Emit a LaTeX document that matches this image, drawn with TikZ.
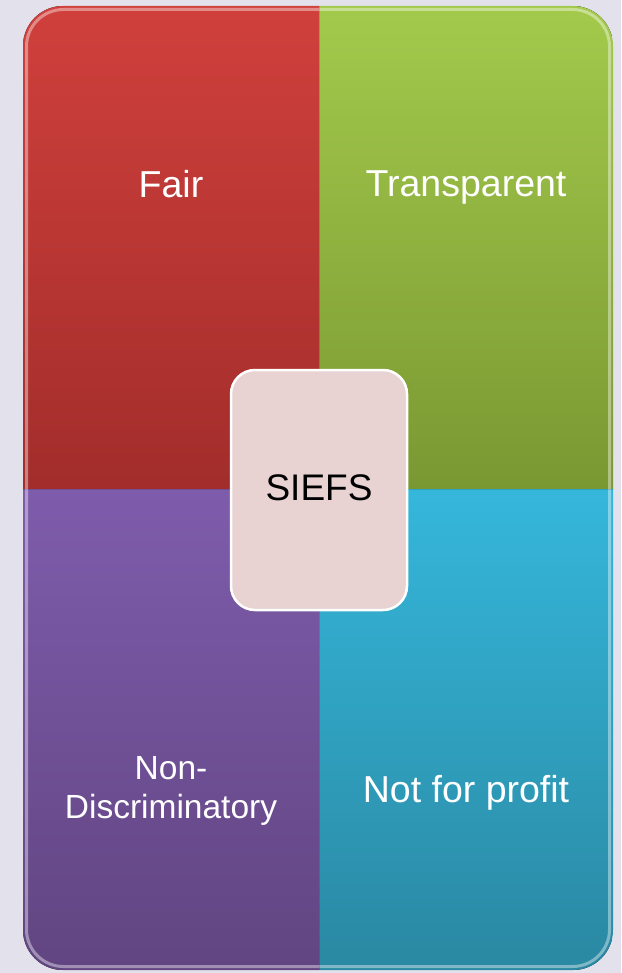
\documentclass[tikz,border=0pt]{standalone}
\usepackage{fontspec}
\setmainfont{Liberation Sans}
\definecolor{bgc}{HTML}{E3E2EC}
\definecolor{redT}{HTML}{D0403C}
\definecolor{redB}{HTML}{A22D2B}
\definecolor{grnT}{HTML}{A3CA4C}
\definecolor{grnB}{HTML}{7A9832}
\definecolor{purT}{HTML}{7E5CAC}
\definecolor{purB}{HTML}{614581}
\definecolor{teaT}{HTML}{35B7DB}
\definecolor{teaB}{HTML}{2A88A2}
\definecolor{ctrfill}{HTML}{E8D2D2}
\tikzset{
  lbl/.style={text=white, font=\fontsize{37.5}{39}\selectfont, inner sep=0pt},
  lblsmall/.style={text=white, font=\fontsize{33.5}{39}\selectfont, inner sep=0pt, align=center},
  centerbox/.style={draw=white, line width=2.5pt, fill=ctrfill, rounded corners=24pt,
    minimum width=176pt, minimum height=240pt, inner sep=0pt},
}
\begin{document}
\begin{tikzpicture}[x=1pt,y=-1pt]
\fill[bgc] (0,0) rectangle (621,973);
\useasboundingbox (0,0) rectangle (621,973);
\begin{scope}
  \clip[rounded corners=40pt] (23,6) rectangle (613,970);
  \fill[top color=redT, bottom color=redB] (23,6) rectangle (319,489);
  \fill[top color=grnT, bottom color=grnB] (319,6) rectangle (613,489);
  \fill[top color=purT, bottom color=purB] (23,489) rectangle (319,970);
  \fill[top color=teaT, bottom color=teaB] (319,489) rectangle (613,970);
  % bevel highlights
  \draw[white, opacity=0.4, line width=3pt, rounded corners=37pt] (26.5,9.5) rectangle (609.5,966.5);
  \draw[black, opacity=0.15, line width=1pt] (319,6) -- (319,970);
  \draw[black, opacity=0.12, line width=1pt] (23,489) -- (613,489);
\end{scope}
\node[lbl, anchor=base] (fair) at (171,198) {Fair};
\node[lbl, anchor=base] (transp) at (466,197) {Transparent};
\node[lbl, anchor=base] (notprofit) at (466,802) {Not for profit};
\node[lblsmall, anchor=base] (nondisc) at (171,818) {Non-\\Discriminatory};
\node[centerbox] (siefs) at (319,490) {};
\node[font=\fontsize{37}{39}\selectfont, text=black, inner sep=0pt, anchor=base] (siefstext) at (319,500) {SIEFS};
\end{tikzpicture}
\end{document}
